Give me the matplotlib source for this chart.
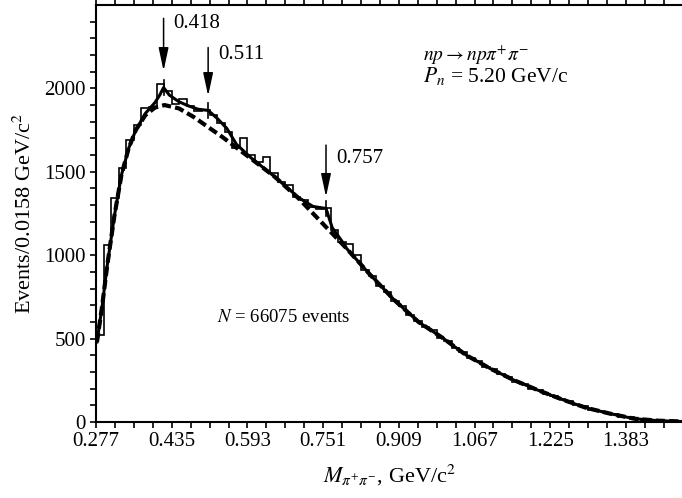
import numpy as np
import matplotlib
matplotlib.use("Agg")
from matplotlib import pyplot as plt

plt.rcParams['font.family'] = ['Liberation Serif', 'DejaVu Serif']
plt.rcParams['mathtext.fontset'] = 'stix'

# histogram: bin width 0.0158 GeV/c^2 starting at 0.277
bin_width = 0.0158
x_start = 0.277
counts = [520, 1060, 1340, 1525, 1690, 1780, 1885, 1890, 2025, 1985,
          1905, 1935, 1895, 1865, 1870, 1840, 1790, 1740, 1640, 1700,
          1600, 1560, 1590, 1490, 1440, 1420, 1350, 1330, 1290, 1275,
          1280, 1150, 1080, 1070, 1000, 910, 875, 815, 780, 725,
          695, 640, 605, 570, 550, 505, 485, 445, 420, 385,
          365, 330, 315, 285, 270, 240, 228, 200, 193, 168,
          158, 136, 124, 102, 93, 72, 66, 52, 46, 33,
          29, 18, 15, 9, 8, 4, 3, 2]

# background curve (dashed)
bkg_x = [0.279, 0.290, 0.300, 0.315, 0.330, 0.345, 0.360, 0.380, 0.400, 0.420,
         0.450, 0.480, 0.510, 0.540, 0.570, 0.600, 0.650, 0.700, 0.750, 0.800,
         0.850, 0.900, 0.950, 1.000, 1.050, 1.100, 1.150, 1.200, 1.250, 1.300,
         1.350, 1.400, 1.450, 1.500]
bkg_y = [480, 700, 930, 1230, 1480, 1640, 1750, 1840, 1885, 1900,
         1880, 1830, 1770, 1710, 1645, 1580, 1470, 1340, 1190, 1040,
         880, 730, 600, 505, 400, 320, 250, 190, 135, 85,
         50, 20, 8, 3]

# full fit (solid)
fit_x = [0.279, 0.290, 0.300, 0.315, 0.330, 0.345, 0.360, 0.380, 0.400, 0.410,
         0.418, 0.430, 0.450, 0.470, 0.490, 0.511, 0.530, 0.550, 0.570, 0.600,
         0.650, 0.700, 0.730, 0.757, 0.770, 0.790, 0.800, 0.850, 0.900, 0.950,
         1.000, 1.050, 1.100, 1.150, 1.200, 1.250, 1.300, 1.350, 1.400, 1.450,
         1.500]
fit_y = [480, 700, 930, 1230, 1480, 1640, 1750, 1850, 1915, 1960,
         2005, 1960, 1920, 1895, 1875, 1868, 1820, 1760, 1665, 1585,
         1470, 1345, 1292, 1280, 1165, 1085, 1040, 880, 730, 600,
         505, 400, 320, 250, 190, 135, 85, 50, 20, 8,
         3]

peaks = [0.418, 0.511, 0.757]
peak_labels = ['0.418', '0.511', '0.757']
arrow_top = [2420, 2245, 1660]
arrow_tip = [2105, 1955, 1350]
label_y = [2386, 2204, 1581]

xticks = [0.277, 0.435, 0.593, 0.751, 0.909, 1.067, 1.225, 1.383]

fig = plt.figure(figsize=(6.82, 4.98), dpi=100)
ax = fig.add_axes([0.1408, 0.1526, 0.8592, 0.8374])

edges = x_start + bin_width * np.arange(len(counts) + 1)
ax.stairs(counts, edges, color='black', linewidth=1.2, baseline=None)

ax.plot(bkg_x, bkg_y, color='black', linewidth=3.0, linestyle=(0, (2.2, 1.0)))
ax.plot(fit_x, fit_y, color='black', linewidth=2.2)

for p, lab, top, tip, ly in zip(peaks, peak_labels, arrow_top, arrow_tip, label_y):
    ax.annotate('', xy=(p, tip), xytext=(p, top),
                arrowprops=dict(arrowstyle='-|>,head_length=0.7,head_width=0.15',
                                color='black', lw=1.1,
                                mutation_scale=20, shrinkA=0, shrinkB=0))
    yc = np.interp(p, fit_x, fit_y)
    ax.plot([p, p], [yc - 45, yc + 45], color='black', linewidth=1.2)
    ax.text(p + 0.021, ly, lab, fontsize=15, va='center', ha='left')

ax.text(0.959, 2198, r'$np \rightarrow np\pi^{+}\pi^{-}$', fontsize=14, va='center')
ax.text(0.959, 2072, r'$P_{n}$ = 5.20 GeV/c', fontsize=15.5, va='center')
ax.text(0.529, 625, r'$N$ = 66075 events', fontsize=13.5, va='center')

ax.set_xlim(0.277, 1.50)
ax.set_ylim(0, 2500)
ax.set_xticks(xticks)
ax.set_xticklabels([f'{t:.3f}' for t in xticks])
ax.set_xticks(np.arange(0.277, 1.50, 0.0395), minor=True)
ax.set_yticks([0, 500, 1000, 1500, 2000])
ax.set_yticks(np.arange(0, 2500, 100), minor=True)
ax.tick_params(which='both', direction='out', labelsize=15, width=1.2, length=4)
ax.tick_params(axis='x', which='both', top=True, labeltop=False)

for side in ['left', 'bottom', 'top']:
    ax.spines[side].set_linewidth(1.5)
ax.spines['right'].set_visible(False)

ax.set_xlabel(r'$M_{\pi^{+}\pi^{-}}$, GeV/c$^2$', fontsize=16, labelpad=8)
ax.set_ylabel(r'Events/0.0158 GeV/c$^2$', fontsize=16, labelpad=6)

fig.savefig('out.png', dpi=100)
